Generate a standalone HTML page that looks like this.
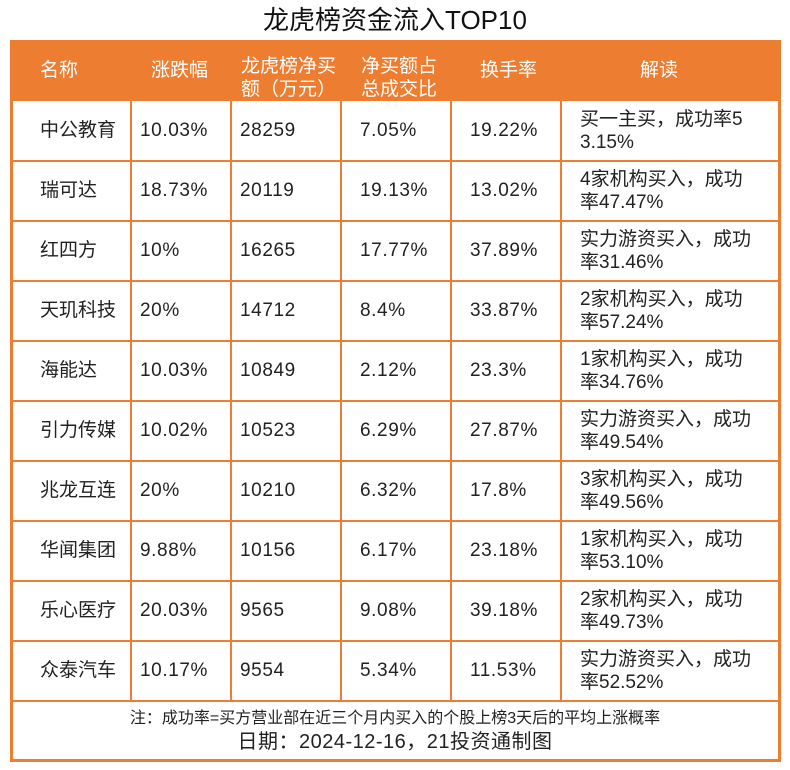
<!DOCTYPE html>
<html><head><meta charset="utf-8"><style>
body{margin:0;width:790px;height:770px;background:#fff;position:relative;overflow:hidden;font-family:"Liberation Sans","Noto Sans CJK SC",sans-serif;}
.t{position:absolute;white-space:nowrap;font-size:19px;color:#222;line-height:23px;}
.h{color:#fff;}
.l{position:absolute;background:#ED7D31;}
</style></head><body>
<div class="t" style="left:0;width:790px;text-align:center;top:5px;font-size:26px;line-height:30px;color:#111">龙虎榜资金流入TOP10</div>
<div style="position:absolute;left:10px;top:40px;width:765px;height:716px;border:3px solid #ED7D31"></div>
<div style="position:absolute;left:10px;top:40px;width:771px;height:61px;background:#ED7D31"></div>
<script>
const names=["中公教育","瑞可达","红四方","天玑科技","海能达","引力传媒","兆龙互连","华闻集团","乐心医疗","众泰汽车"];
const chg=["10.03%","18.73%","10%","20%","10.03%","10.02%","20%","9.88%","20.03%","10.17%"];
const net=["28259","20119","16265","14712","10849","10523","10210","10156","9565","9554"];
const ratio=["7.05%","19.13%","17.77%","8.4%","2.12%","6.29%","6.32%","6.17%","9.08%","5.34%"];
const turn=["19.22%","13.02%","37.89%","33.87%","23.3%","27.87%","17.8%","23.18%","39.18%","11.53%"];
const note=[["买一主买，成功率5","3.15%"],["4家机构买入，成功","率47.47%"],["实力游资买入，成功","率31.46%"],["2家机构买入，成功","率57.24%"],["1家机构买入，成功","率34.76%"],["实力游资买入，成功","率49.54%"],["3家机构买入，成功","率49.56%"],["1家机构买入，成功","率53.10%"],["2家机构买入，成功","率49.73%"],["实力游资买入，成功","率52.52%"]];
const b=document.body;
function txt(s,x,y,cls,name){const d=document.createElement('div');d.className='t '+(cls||'');d.style.left=x+'px';d.style.top=y+'px';d.innerHTML=s;


b.appendChild(d);return d;}
function line(x,y,w,h,name){const d=document.createElement('div');d.className='l';d.style.left=x+'px';d.style.top=y+'px';d.style.width=w+'px';d.style.height=h+'px';


b.appendChild(d);}
txt("名称",40,59,'h','header-name');
txt("涨跌幅",151,59,'h','header-change');
txt("龙虎榜净买<br>额（万元）",241,55,'h','header-net-buy');
txt("净买额占<br>总成交比",361,55,'h','header-ratio');
txt("换手率",480,59,'h','header-turnover');
txt("解读",640,59,'h','header-note');
const cols=[130,230,340,450,560];
for(let i=0;i<10;i++){
 const y=100+i*60;
 if(i>0) line(11,y,769,2,'row-divider');
 txt(names[i],40,y+19,'','stock-name');
 txt(chg[i],140,y+19,'','change-value').style.letterSpacing='0.6px';
 txt(net[i],240,y+19,'','net-buy-value').style.letterSpacing='0.6px';
 txt(ratio[i],360,y+19,'','ratio-value').style.letterSpacing='0.6px';
 txt(turn[i],470,y+19,'','turnover-value').style.letterSpacing='0.6px';
 txt(note[i][0]+'<br>'+note[i][1],580,y+8,'','note-text');
}
line(11,700,769,2,'footer-divider');
cols.forEach(x=>line(x,101,2,599,'column-divider'));
txt("注：成功率=买方营业部在近三个月内买入的个股上榜3天后的平均上涨概率",0,707,'','footnote').style.cssText+='width:790px;text-align:center;font-size:16px;';
txt("日期：2024-12-16，21投资通制图",0,731,'','date-source').style.cssText+='width:790px;text-align:center;font-size:20px;letter-spacing:0.5px;';
</script>
</body></html>
